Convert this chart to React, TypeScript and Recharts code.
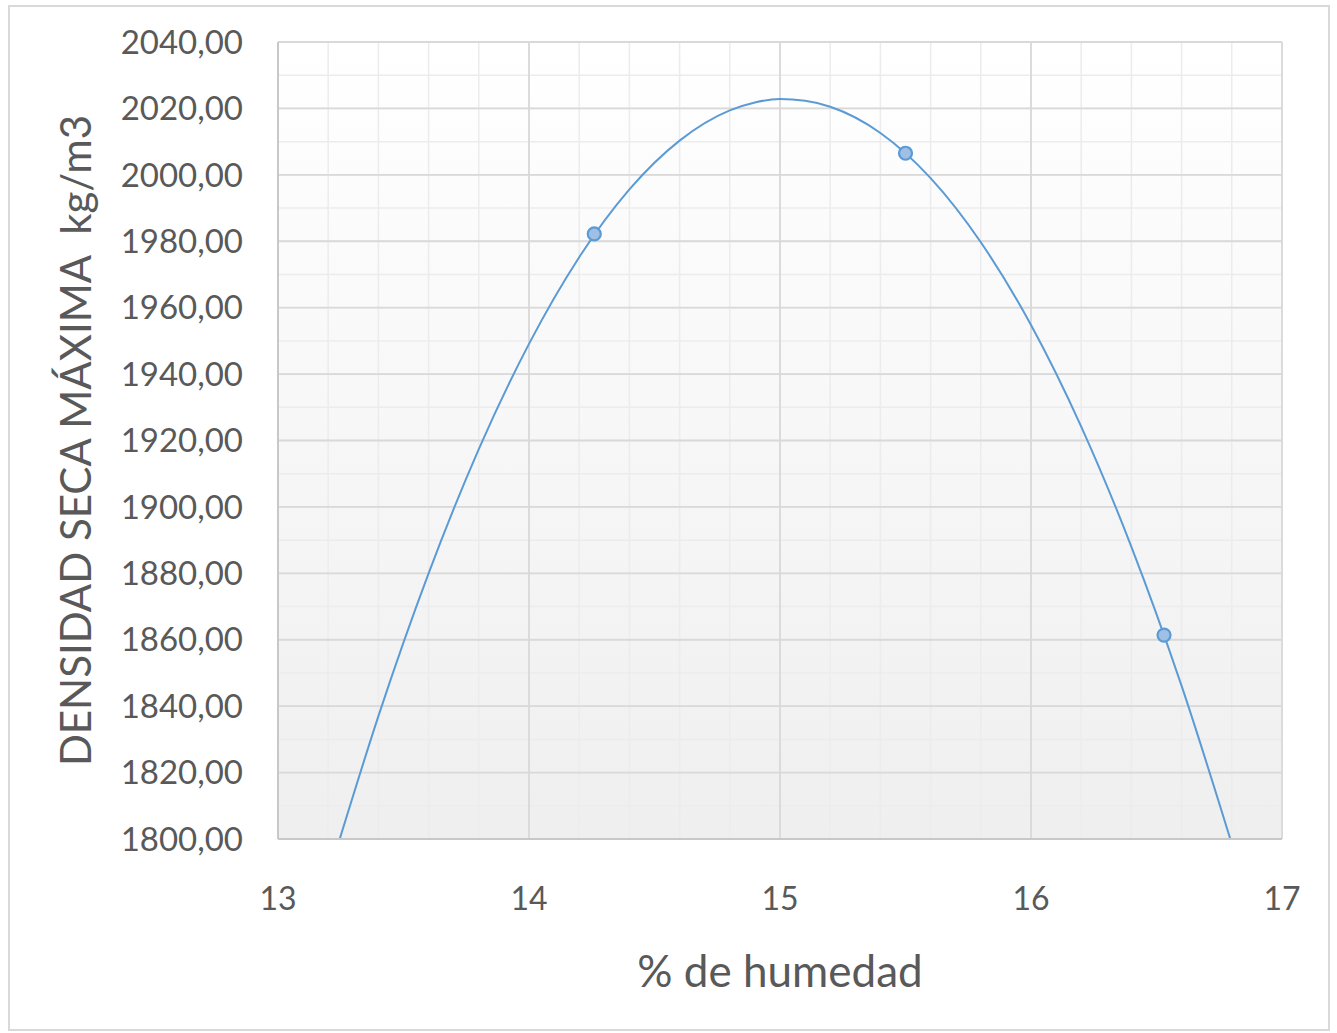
import {
  CartesianGrid,
  ComposedChart,
  Line,
  Scatter,
  XAxis,
  YAxis,
} from "recharts";

// measured points (% humedad, densidad seca kg/m3)
const humedad = [14.26, 15.5, 16.53];
const densidad = [1982.2, 2006.5, 1861.4];

// polynomial trendline
const curveX = [
  13.246, 13.4, 13.6, 13.8, 14.0, 14.2, 14.4, 14.6, 14.8, 14.9, 15.0, 15.1,
  15.2, 15.4, 15.6, 15.8, 16.0, 16.2, 16.4, 16.6, 16.794,
];
const curveY = [
  1800, 1837.0, 1880.0, 1917.4, 1949.1, 1975.2, 1995.6, 2010.3, 2019.4,
  2021.8, 2022.8, 2022.3, 2020.5, 2012.6, 1999.0, 1979.7, 1954.8, 1924.2,
  1888.0, 1846.1, 1800,
];

const xTicks = [13, 14, 15, 16, 17];
const yTicks = [
  1800, 1820, 1840, 1860, 1880, 1900, 1920, 1940, 1960, 1980, 2000, 2020, 2040,
];
const xMinor = Array.from({ length: 21 }, (_, i) => +(13 + i * 0.2).toFixed(1));
const yMinor = Array.from({ length: 49 }, (_, i) => 1800 + i * 5);

const points = humedad.map((x, i) => ({ x, y: densidad[i] }));
const curve = curveX.map((x, i) => ({ x, y: curveY[i] }));

const FONT = "Lato, Carlito, 'Open Sans', sans-serif";
const TEXT = "#595959";

function formatY(v: number): string {
  return v.toFixed(2).replace(".", ",");
}

function Marker(props: any) {
  const { cx, cy } = props;
  return (
    <circle
      cx={cx}
      cy={cy}
      r={6.5}
      fill="#9fbfe4"
      stroke="#5b9bd5"
      strokeWidth={2.2}
    />
  );
}

export default function App() {
  return (
    <div
      style={{
        position: "absolute",
        left: 0,
        top: 0,
        width: 1337,
        height: 1033,
        background: "#fff",
        fontFamily: FONT,
      }}
    >
      <div
        style={{
          position: "absolute",
          left: 8,
          top: 5,
          width: 1322,
          height: 1026,
          border: "2px solid #d9d9d9",
          boxSizing: "border-box",
        }}
      />
      <div style={{ position: "absolute", left: 0, top: 0 }}>
        <ComposedChart
          width={1337}
          height={1033}
          margin={{ top: 42, right: 55, bottom: 44, left: 78 }}
        >
          <defs>
            <linearGradient id="plotBg" x1="0" y1="0" x2="0" y2="1">
              <stop offset="0%" stopColor="#ffffff" />
              <stop offset="100%" stopColor="#efefef" />
            </linearGradient>
          </defs>
          <XAxis
            xAxisId="minor"
            type="number"
            dataKey="x"
            domain={[13, 17]}
            ticks={xMinor}
            allowDataOverflow
            hide
          />
          <YAxis
            yAxisId="minor"
            type="number"
            dataKey="y"
            domain={[1800, 2040]}
            ticks={yMinor}
            allowDataOverflow
            hide
          />
          <CartesianGrid
            xAxisId="minor"
            yAxisId="minor"
            fill="url(#plotBg)"
            fillOpacity={1}
            stroke="#ececec"
            strokeWidth={1.5}
          />
          <CartesianGrid stroke="#d9d9d9" strokeWidth={1.8} />
          <XAxis
            type="number"
            dataKey="x"
            domain={[13, 17]}
            ticks={xTicks}
            allowDataOverflow
            height={150}
            stroke="#c8c8c8"
            strokeWidth={2}
            tickLine={false}
            tickSize={0}
            tickMargin={48}
            tick={{ fill: TEXT, fontSize: 32, fontFamily: FONT }}
            label={{
              content: ({ viewBox }: any) => (
                <text
                  x={viewBox.x + viewBox.width / 2}
                  y={viewBox.y + 131}
                  textAnchor="middle"
                  dominantBaseline="central"
                  fill={TEXT}
                  fontSize={44}
                  fontFamily={FONT}
                >
                  % de humedad
                </text>
              ),
            }}
          />
          <YAxis
            type="number"
            dataKey="y"
            domain={[1800, 2040]}
            ticks={yTicks}
            allowDataOverflow
            width={200}
            stroke="#c8c8c8"
            strokeWidth={2}
            tickLine={false}
            tickSize={0}
            tickMargin={35}
            tickFormatter={formatY}
            tick={{ fill: TEXT, fontSize: 33, fontFamily: FONT }}
            label={{
              content: ({ viewBox }: any) => {
                const x = viewBox.x - 3;
                const y = viewBox.y + viewBox.height / 2;
                return (
                  <text
                    x={x}
                    y={y}
                    transform={`rotate(-90, ${x}, ${y})`}
                    textAnchor="middle"
                    dominantBaseline="central"
                    fill={TEXT}
                    fontSize={42}
                    fontFamily={FONT}
                    style={{ whiteSpace: "pre" }}
                  >
                    {"DENSIDAD SECA MÁXIMA  kg/m3"}
                  </text>
                );
              },
            }}
          />
          <Line
            data={curve}
            dataKey="y"
            type="monotone"
            stroke="#5b9bd5"
            strokeWidth={2}
            dot={false}
            activeDot={false}
            isAnimationActive={false}
          />
          <Scatter
            data={points}
            dataKey="y"
            shape={<Marker />}
            isAnimationActive={false}
          />
        </ComposedChart>
      </div>
    </div>
  );
}
